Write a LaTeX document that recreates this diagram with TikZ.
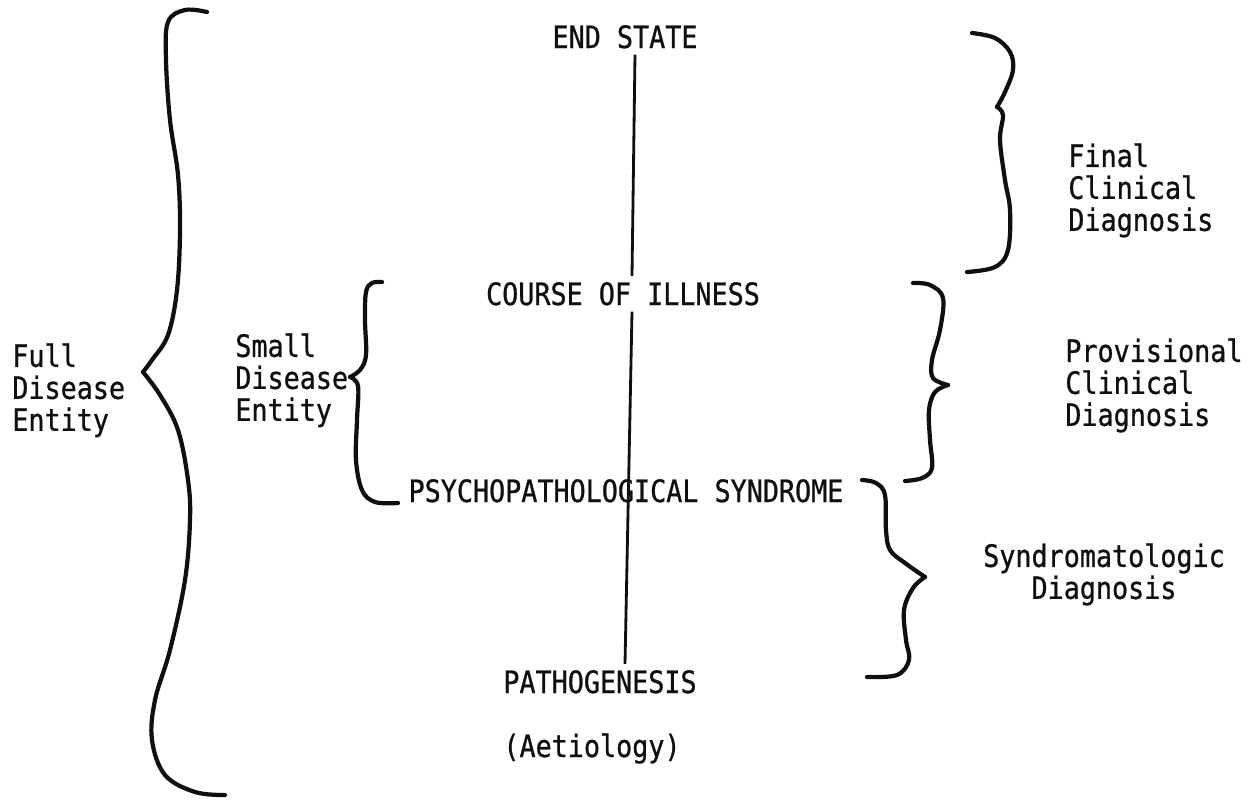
\documentclass[tikz,border=0pt]{standalone}
\usepackage{fontspec}
\usepackage{tikz}
\usetikzlibrary{positioning, calc}
\newfontfamily\typer[FakeStretch=0.87, FakeBold=0.8]{DejaVu Sans Mono}
\definecolor{ink}{RGB}{15, 15, 15}

\begin{document}
\begin{tikzpicture}[
  x=0.02cm, y=-0.02cm,
  stage/.style={font=\typer\fontsize{17.5}{18.2}\selectfont, text=ink, anchor=base},
  note/.style={font=\typer\fontsize{17.5}{18.2}\selectfont, text=ink, align=left,
               inner sep=0pt, anchor=north west},
  axis/.style={draw=ink, line width=1.6pt},
  curly/.style={draw=ink, line width=2.4pt, line cap=round, line join=round}
]
\useasboundingbox (0,0) rectangle (1254,801);

% levels on the central axis
\node[stage] (endstate) at (625,48) {END STATE};
\node[stage] (course) at (623,305) {COURSE OF ILLNESS};
\node[stage] (psycho) at (626,502) {PSYCHOPATHOLOGICAL SYNDROME};
\node[stage] (patho) at (600,693) {PATHOGENESIS};
\node[stage] (aetio) at (592,757) {(Aetiology)};

\draw[axis] ([xshift=0.2cm]endstate.south) -- ([xshift=0.18cm]course.north);
\draw[axis] ([xshift=0.18cm]course.south) -- ([xshift=0.5cm]patho.north);

% side labels
\node[note] (full) at (12,343) {Full\\Disease\\Entity};
\node[note] (small) at (235,333) {Small\\Disease\\Entity};
\node[note] (final) at (1068,143) {Final\\Clinical\\Diagnosis};
\node[note] (prov) at (1065,338) {Provisional\\Clinical\\Diagnosis};
\node[note, align=center, anchor=north] (syndro) at (1104,543) {Syndromatologic\\Diagnosis};

% braces, drawn by hand
\draw[curly] plot[smooth, tension=0.6] coordinates {(207,12) (185,10) (168,22) (166,60) (170,120)
  (178,175) (180,230) (177,290) (168,335) (152,360) (143,372)};
\draw[curly] plot[smooth, tension=0.6] coordinates {(143,372) (160,395) (178,430) (188,480)
  (190,520) (185,580) (170,650) (155,700) (152,740) (165,775) (195,792) (225,795)};

\draw[curly] plot[smooth, tension=0.6] coordinates {(382,282) (372,283) (366,292) (365,320)
  (366,355) (360,370) (350,377)};
\draw[curly] plot[smooth, tension=0.6] coordinates {(350,377) (358,386) (357,420) (356,460)
  (362,490) (375,502) (398,503)};

\draw[curly] plot[smooth, tension=0.6] coordinates {(972,33) (995,38) (1010,52) (1013,70)
  (1005,92) (997,107)};
\draw[curly] plot[smooth, tension=0.6] coordinates {(997,107) (1003,115) (1000,140) (1005,180)
  (1010,210) (1008,250) (995,267) (967,272)};

\draw[curly] plot[smooth, tension=0.6] coordinates {(913,283) (930,285) (943,298) (940,330)
  (932,360) (933,378) (948,385)};
\draw[curly] plot[smooth, tension=0.6] coordinates {(948,385) (935,392) (929,410) (930,440)
  (932,468) (922,478) (905,481)};

\draw[curly] plot[smooth, tension=0.6] coordinates {(862,480) (876,483) (885,495) (886,530)
  (890,550) (905,563) (925,577)};
\draw[curly] plot[smooth, tension=0.6] coordinates {(925,577) (913,588) (904,610) (906,640)
  (909,660) (897,675) (867,677)};
\end{tikzpicture}
\end{document}
